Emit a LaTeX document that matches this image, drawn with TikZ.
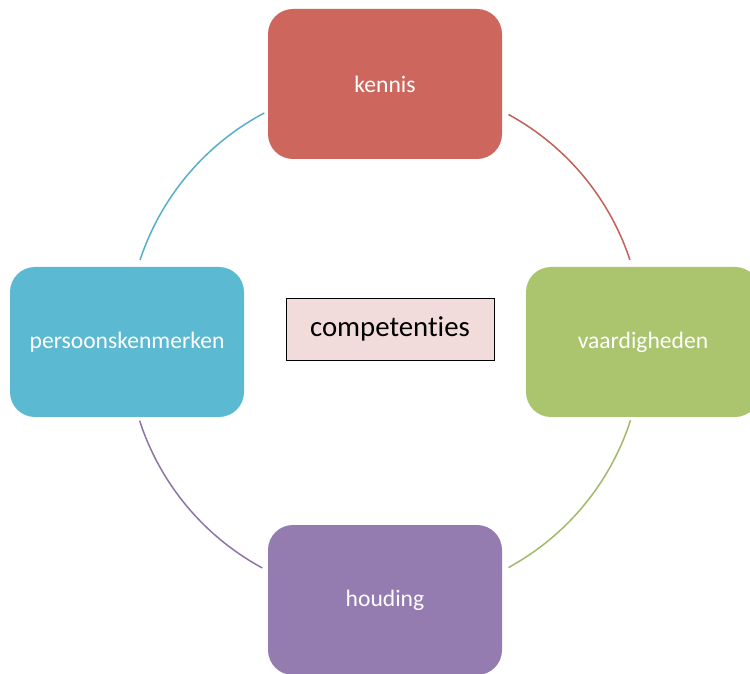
\documentclass[tikz,border=0pt]{standalone}
\usepackage{fontspec}
\setmainfont[Ligatures=NoCommon]{Carlito}
\definecolor{kennisred}{HTML}{CD665D}
\definecolor{vaardgreen}{HTML}{ABC46E}
\definecolor{houdpurple}{HTML}{947BB0}
\definecolor{persblue}{HTML}{5BB9D1}
\definecolor{comppink}{HTML}{F2DCDB}
\tikzset{
  partbox/.style={rounded corners=25pt, minimum width=234pt, minimum height=150pt,
    inner sep=0pt, outer sep=0pt, text=white, font=\fontsize{23.6}{28}\selectfont},
  ring/.style={line width=1.5pt}
}
\begin{document}
\begin{tikzpicture}[x=1pt,y=1pt]

  \clip (0,0) rectangle (750,673);
  \useasboundingbox (0,0) rectangle (750,673);
  \fill[white] (0,0) rectangle (750,673);

  % Draw the four boxes round the middle
  \coordinate (mid) at (385,332);
  \node[partbox, fill=kennisred] (kennis) at (385,589) {kennis};
  \node[partbox, fill=vaardgreen] (vaardigheden) at (643,331) {vaardigheden};
  \node[partbox, fill=houdpurple] (houding) at (385,73) {houding};
  \node[partbox, fill=persblue] (persoonskenmerken) at (127,331) {persoonskenmerken};

  % Draw the box in the middle
  \node[draw=black, thick, fill=comppink, minimum width=208pt, minimum height=62pt,
    font=\fontsize{28.8}{34}\selectfont] (competenties) at (390,344) {competenties};

  % Draw the ring between the boxes
  \draw[ring, kennisred!95!black] ([shift={(61.4:258)}]mid) arc[start angle=61.4, end angle=18.3, radius=258];
  \draw[ring, vaardgreen!95!black] ([shift={(-17.9:258)}]mid) arc[start angle=-17.9, end angle=-61.4, radius=258];
  \draw[ring, houdpurple!95!black] ([shift={(-118.4:258)}]mid) arc[start angle=-118.4, end angle=-162, radius=258];
  \draw[ring, persblue!95!black] ([shift={(161.7:258)}]mid) arc[start angle=161.7, end angle=117.9, radius=258];

\end{tikzpicture}
\end{document}
